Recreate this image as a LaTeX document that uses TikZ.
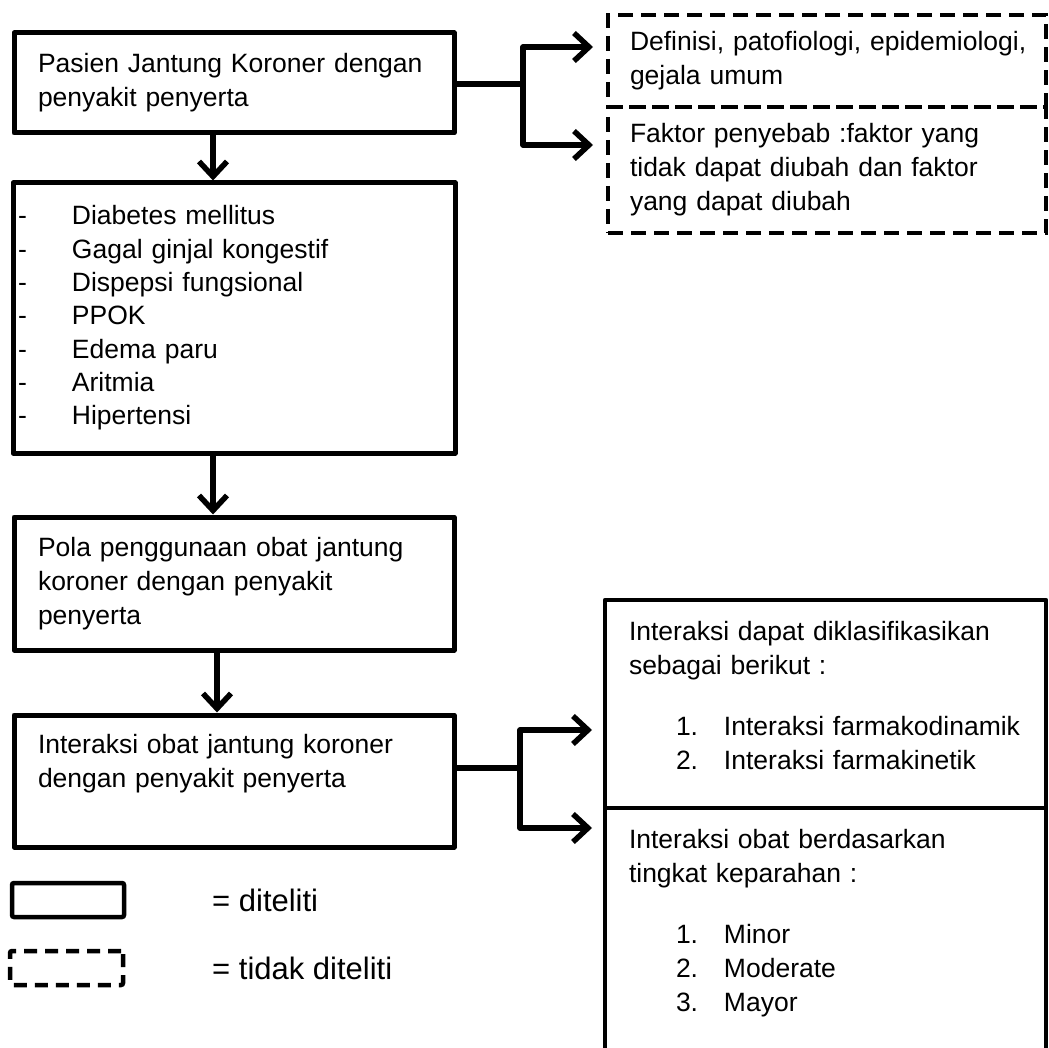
\documentclass[tikz,border=0pt]{standalone}
\usepackage{fontspec}
\setmainfont{Liberation Sans}
\usetikzlibrary{arrows.meta}
\tikzset{
    every node/.style={rectangle, inner sep=0pt, font=\fontsize{26.5}{34}\selectfont}
}
\tikzset{
    box/.style={draw, line width=5pt, line join=round, align=left, inner xsep=24pt},
    dashbox/.style={draw, line width=4.5pt, dash pattern=on 15pt off 8pt, align=left, inner xsep=22pt},
    keytext/.style={font=\fontsize{31}{36}\selectfont, anchor=west},
    link/.style={line width=6pt},
    arr/.style={line width=5.5pt, line join=round, -{Straight Barb[length=15pt, width=28pt]}}
}
\newcommand{\dashitem}[1]{\makebox[54pt][l]{-}#1}
\newcommand{\numitem}[2]{\hspace*{47pt}\makebox[48pt][l]{#1}#2}

\begin{document}
\begin{tikzpicture}[x=1pt, y=-1pt]
    \path[use as bounding box, fill=white] (0,0) rectangle (1049,1048);

    \node (pasien) [box, text width=392pt, minimum height=100pt] at (234, 83)
        {Pasien Jantung Koroner dengan\\penyakit penyerta};
    \node (daftar) [box, inner xsep=5pt, text width=432pt, minimum height=270pt,
        font=\fontsize{26.5}{33.3}\selectfont] at (234, 318)
        {\dashitem{Diabetes mellitus}\\
         \dashitem{Gagal ginjal kongestif}\\
         \dashitem{Dispepsi fungsional}\\
         \dashitem{PPOK}\\
         \dashitem{Edema paru}\\
         \dashitem{Aritmia}\\
         \dashitem{Hipertensi}};
    \node (pola) [box, text width=392pt, minimum height=133pt] at (234, 583.5)
        {Pola penggunaan obat jantung\\koroner dengan penyakit\\penyerta};
    \node (interaksi) [box, text width=392pt, minimum height=132pt] at (234, 781)
        {Interaksi obat jantung koroner\\dengan penyakit penyerta\\[6.5pt]\mbox{}};

    % tidak diteliti
    \node (definisi) [dashbox, text width=394pt, minimum height=92pt] at (827, 61)
        {\mbox{Definisi, patofiologi, epidemiologi,}\\gejala umum};
    \node (faktor) [dashbox, text width=394pt, minimum height=126pt] at (827, 170)
        {Faktor penyebab :faktor yang\\tidak dapat diubah dan faktor\\yang dapat diubah};

    \node (klasifikasi) [box, line width=4.5pt, text width=393pt, minimum height=208pt] at (825.5, 704)
        {\mbox{Interaksi dapat diklasifikasikan}\\
         sebagai berikut :\\[27pt]
         \mbox{\numitem{1.}{Interaksi farmakodinamik}}\\
         \numitem{2.}{Interaksi farmakinetik}\\[-17.5pt]\mbox{}};
    \node (keparahan) [box, line width=4.5pt, text width=393pt, minimum height=252pt] at (825.5, 934)
        {Interaksi obat berdasarkan\\
         tingkat keparahan :\\[27pt]
         \numitem{1.}{Minor}\\
         \numitem{2.}{Moderate}\\
         \numitem{3.}{Mayor}\\[-7.5pt]\mbox{}};

    % keterangan
    \node (solidkey) [draw, line width=4.5pt, rounded corners=2pt, minimum width=112pt, minimum height=34pt] at (68, 900) {};
    \node (dashkey) [draw, line width=4.5pt, dash pattern=on 13pt off 8pt, rounded corners=2pt, minimum width=113pt, minimum height=34pt] at (66.5, 968) {};
    \node (solidtext) [keytext] at (212, 900) {= diteliti};
    \node (dashtext) [keytext] at (212, 968) {= tidak diteliti};

    \coordinate (jPasien) at (523, 84);
    \coordinate (tDefinisi) at (593, 47);
    \coordinate (tFaktor) at (593, 145);
    \coordinate (jInteraksi) at (520, 768);
    \coordinate (tKlasifikasi) at (592, 730);
    \coordinate (tKeparahan) at (592, 828);

    \draw[arr] ([xshift=-21pt]pasien.south) -- ([xshift=-21pt]daftar.north);
    \draw[arr] ([xshift=-21pt]daftar.south) -- ([xshift=-21pt]pola.north);
    \draw[arr] ([xshift=-17pt]pola.south) -- ([xshift=-17pt]interaksi.north);

    \draw[link] (pasien.east |- jPasien) -- (jPasien);
    \draw[arr] (jPasien) |- (tDefinisi);
    \draw[arr] (jPasien) |- (tFaktor);

    \draw[link] (interaksi.east |- jInteraksi) -- (jInteraksi);
    \draw[arr] (jInteraksi) |- (tKlasifikasi);
    \draw[arr] (jInteraksi) |- (tKeparahan);
\end{tikzpicture}
\end{document}
